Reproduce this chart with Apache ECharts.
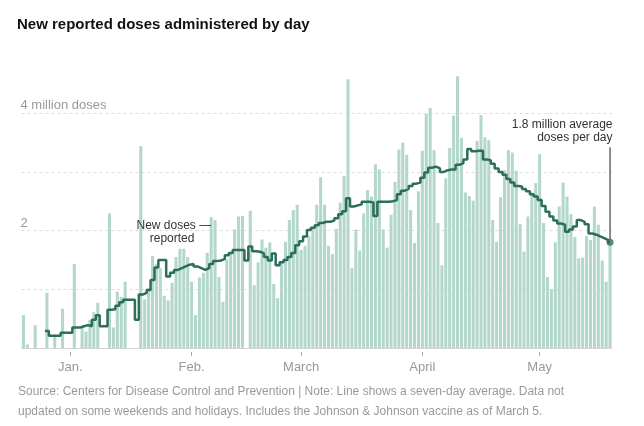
<!DOCTYPE html>
<html>
<head>
<meta charset="utf-8">
<script src="https://cdn.jsdelivr.net/npm/echarts/dist/echarts.min.js"></script>
<style>
html,body{margin:0;padding:0;background:#ffffff;}
#chart{width:644px;height:426px;}
</style>
</head>
<body>
<div id="chart"></div>
<script>
// ---------- data ----------
const firstDay = '2020-12-20';
const dayCount = 151;
const dates = [];
for (let i = 0; i < dayCount; i++) {
  const d = new Date(Date.UTC(2020, 11, 20 + i));
  dates.push(d.toISOString().slice(0, 10));
}

// New reported doses per day (millions)
const doses = [
  0.56, 0.06, 0, 0.39, 0, 0, 0.94, 0, 0.19, 0,
  0.67, 0, 0, 1.43, 0, 0.34, 0.28, 0.48, 0.61, 0.77,
  0, 0, 2.29, 0.35, 0.96, 0.87, 1.13, 0, 0, 0,
  3.44, 0.83, 1.02, 1.57, 1.43, 1.36, 0.89, 0.81, 1.11, 1.55,
  1.69, 1.69, 1.55, 1.13, 0.56, 1.20, 1.28, 1.62, 2.23, 2.18,
  1.21, 0.79, 1.51, 1.62, 2.02, 2.24, 2.25, 0, 2.34, 1.07,
  1.46, 1.85, 1.71, 1.80, 1.09, 0.85, 1.46, 1.81, 2.18, 2.35,
  2.44, 1.67, 1.74, 1.91, 2.04, 2.44, 2.91, 2.44, 1.74, 1.60,
  2.03, 2.48, 2.93, 4.58, 1.36, 2.02, 1.66, 2.29, 2.69, 2.58,
  3.13, 3.04, 2.02, 1.71, 2.27, 2.83, 3.38, 3.50, 3.29, 2.35,
  1.79, 2.67, 3.36, 3.99, 4.09, 3.37, 2.13, 1.41, 2.89, 3.41,
  3.96, 4.63, 3.58, 2.65, 2.59, 2.51, 3.53, 3.97, 3.59, 3.54,
  2.18, 1.81, 2.57, 3.03, 3.37, 3.33, 3.02, 2.11, 1.64, 2.24,
  2.65, 2.81, 3.30, 2.13, 1.21, 1.00, 1.80, 2.41, 2.82, 2.58,
  2.28, 1.89, 1.53, 1.54, 1.91, 1.84, 2.41, 2.10, 1.49, 1.13,
  1.78
];

// Seven-day average (millions)
const average = [
  null, null, null, null, null, null, 0.29, 0.21, 0.21, 0.21,
  0.26, 0.26, 0.26, 0.35, 0.35, 0.37, 0.39, 0.37, 0.48, 0.56,
  0.37, 0.37, 0.65, 0.66, 0.72, 0.78, 0.82, 0.82, 0.82, 0.48,
  0.91, 0.94, 0.99, 1.16, 1.37, 1.50, 1.50, 1.22, 1.28, 1.33,
  1.36, 1.39, 1.42, 1.43, 1.39, 1.36, 1.33, 1.36, 1.43, 1.48,
  1.49, 1.52, 1.58, 1.62, 1.67, 1.67, 1.67, 1.49, 1.73, 1.65,
  1.64, 1.61, 1.55, 1.49, 1.61, 1.41, 1.46, 1.50, 1.55, 1.62,
  1.75, 1.82, 1.90, 2.01, 2.05, 2.09, 2.13, 2.15, 2.15, 2.17,
  2.21, 2.28, 2.33, 2.55, 2.41, 2.43, 2.45, 2.49, 2.49, 2.48,
  2.25, 2.49, 2.49, 2.49, 2.50, 2.52, 2.62, 2.68, 2.71, 2.76,
  2.80, 2.82, 2.90, 2.99, 3.07, 3.09, 3.06, 3.00, 3.03, 3.04,
  3.04, 3.12, 3.15, 3.21, 3.39, 3.35, 3.36, 3.36, 3.21, 3.20,
  3.14, 3.06, 3.00, 2.95, 2.88, 2.82, 2.76, 2.75, 2.71, 2.67,
  2.62, 2.58, 2.52, 2.42, 2.32, 2.24, 2.17, 2.12, 2.10, 1.98,
  2.02, 2.07, 2.18, 2.15, 2.11, 1.95, 1.93, 1.90, 1.87, 1.84,
  1.80
];

const tickDates = ['2021-01-01', '2021-02-01', '2021-03-01', '2021-04-01', '2021-05-01'];
const tickLabels = ['Jan.', 'Feb.', 'March', 'April', 'May'];
const yTicks = [2, 4];
const yTickLabels = ['2', '4 million doses'];

const titleText = 'New reported doses administered by day';
const noteLines = [
  'Source: Centers for Disease Control and Prevention | Note: Line shows a seven-day average. Data not',
  'updated on some weekends and holidays. Includes the Johnson & Johnson vaccine as of March 5.'
];
const seriesLabelLines = ['New doses \u2014', 'reported'];
const endLabelLines = ['1.8 million average', 'doses per day'];

// ---------- chart ----------
const FONT = '"Liberation Sans", Arial, Helvetica, sans-serif';
const BAR = '#b4d7cb';
const LINE = '#2c6d5d';
const chart = echarts.init(document.getElementById('chart'), null, { renderer: 'canvas' });
const lastIdx = average.length - 1;

const option = {
  animation: false,
  backgroundColor: '#ffffff',
  textStyle: { fontFamily: FONT },
  title: [
    {
      text: titleText, left: 17, top: 17, padding: 0,
      textStyle: { fontFamily: FONT, fontSize: 15, fontWeight: 'bold', color: '#121212' }
    },
    {
      text: noteLines.join('\n'), left: 18, top: 382, padding: 0,
      textStyle: { fontFamily: FONT, fontSize: 12, fontWeight: 'normal', color: '#999999', lineHeight: 20 }
    }
  ],
  grid: { left: 21.5, right: 32, top: 54.5, bottom: 78, containLabel: false },
  xAxis: [
    {
      type: 'category', data: dates, boundaryGap: true,
      axisLine: { show: true, lineStyle: { color: '#d4d4d4', width: 1 } },
      axisTick: { show: false }, axisLabel: { show: false }, splitLine: { show: false }
    },
    {
      type: 'category', data: dates, boundaryGap: true, position: 'bottom', offset: 4,
      axisLine: { show: false },
      axisTick: {
        show: true, alignWithLabel: true, length: 4,
        interval: (i, v) => tickDates.indexOf(v) >= 0,
        lineStyle: { color: '#aaaaaa', width: 1 }
      },
      axisLabel: {
        show: true, margin: 9, fontSize: 13, color: '#999999', fontFamily: FONT,
        interval: (i, v) => tickDates.indexOf(v) >= 0,
        formatter: v => { const k = tickDates.indexOf(v); return k < 0 ? '' : tickLabels[k]; }
      },
      splitLine: { show: false }
    }
  ],
  yAxis: {
    type: 'value', min: 0, max: 5, interval: 1,
    axisLine: { show: false }, axisTick: { show: false },
    splitLine: {
      show: true, showMinLine: false, showMaxLine: false,
      lineStyle: { type: [3, 3], color: '#dddddd', width: 1 }
    },
    axisLabel: {
      inside: true, margin: -1, verticalAlign: 'bottom', padding: [0, 0, 1, 0],
      fontSize: 13, color: '#999999', fontFamily: FONT,
      showMaxLabel: false, showMinLabel: false,
      formatter: v => { const k = yTicks.indexOf(v); return k < 0 ? '' : yTickLabels[k]; }
    }
  },
  series: [
    {
      type: 'bar', data: doses, xAxisIndex: 0, barCategoryGap: '22%',
      itemStyle: { color: BAR }, silent: true
    },
    {
      type: 'line', data: average, xAxisIndex: 0, step: 'middle', symbol: 'none',
      connectNulls: false, lineStyle: { color: LINE, width: 2.5 }, z: 5, silent: true
    },
    {
      type: 'scatter', xAxisIndex: 0, data: [[dates[lastIdx], average[lastIdx]]],
      symbol: 'circle', symbolSize: 7, itemStyle: { color: LINE }, z: 6, silent: true
    }
  ]
};
chart.setOption(option);

// ---------- annotations placed in data space ----------
const px = (i, v) => chart.convertToPixel({ gridIndex: 0 }, [i, v]);
const a1 = px(47.7, 2.08);
const a2 = px(38.2, 1.87);
const endDot = px(lastIdx, average[lastIdx]);
const endTop = px(lastIdx, 3.42);
const endText1 = px(lastIdx, 3.80);
const endText2 = px(lastIdx, 3.58);
const annFont = '12px ' + FONT;
chart.setOption({
  graphic: [
    { type: 'text', z: 10, style: { text: seriesLabelLines[0], x: a1[0], y: a1[1], align: 'right', verticalAlign: 'middle', font: annFont, fill: '#333333' } },
    { type: 'text', z: 10, style: { text: seriesLabelLines[1], x: a2[0], y: a2[1], align: 'center', verticalAlign: 'middle', font: annFont, fill: '#333333' } },
    { type: 'text', z: 10, style: { text: endLabelLines[0], x: endText1[0] + 2.5, y: endText1[1], align: 'right', verticalAlign: 'middle', font: annFont, fill: '#333333' } },
    { type: 'text', z: 10, style: { text: endLabelLines[1], x: endText2[0] + 2.5, y: endText2[1], align: 'right', verticalAlign: 'middle', font: annFont, fill: '#333333' } },
    { type: 'line', z: 10, shape: { x1: endTop[0], y1: endTop[1], x2: endDot[0], y2: endDot[1] - 3 }, style: { stroke: '#666666', lineWidth: 1.5 } }
  ]
});
</script>
</body>
</html>
